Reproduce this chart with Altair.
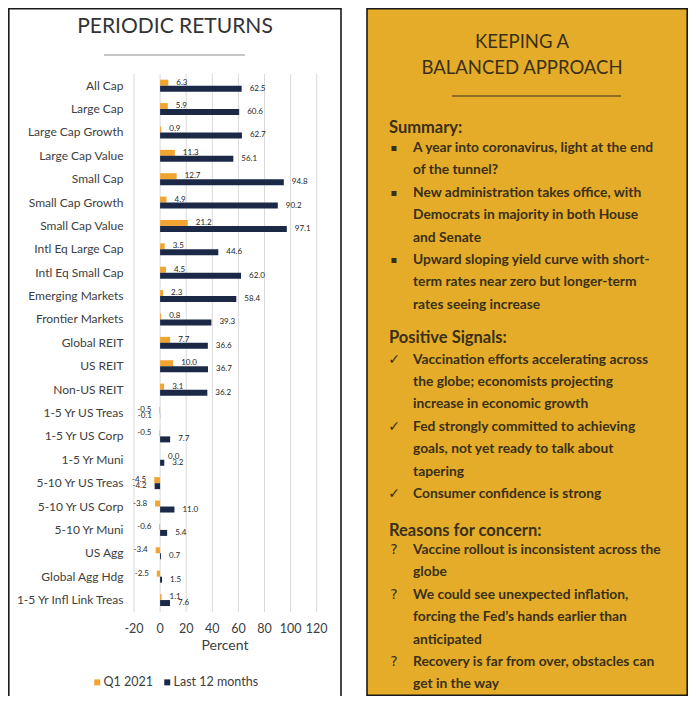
import altair as alt
import pandas as pd

# ---------------- data ----------------
categories = ["All Cap", "Large Cap", "Large Cap Growth", "Large Cap Value", "Small Cap",
              "Small Cap Growth", "Small Cap Value", "Intl Eq Large Cap", "Intl Eq Small Cap",
              "Emerging Markets", "Frontier Markets", "Global REIT", "US REIT", "Non-US REIT",
              "1-5 Yr US Treas", "1-5 Yr US Corp", "1-5 Yr Muni", "5-10 Yr US Treas",
              "5-10 Yr US Corp", "5-10 Yr Muni", "US Agg", "Global Agg Hdg",
              "1-5 Yr Infl Link Treas"]
q1_2021 = [6.3, 5.9, 0.9, 11.3, 12.7, 4.9, 21.2, 3.5, 4.5, 2.3, 0.8, 7.7, 10.0, 3.1,
           -0.5, -0.5, 0.0, -4.5, -3.8, -0.6, -3.4, -2.5, 1.1]
last_12m = [62.5, 60.6, 62.7, 56.1, 94.8, 90.2, 97.1, 44.6, 62.0, 58.4, 39.3, 36.6, 36.7, 36.2,
            -0.1, 7.7, 3.2, -4.2, 11.0, 5.4, 0.7, 1.5, 7.6]
series_names = ["Q1 2021", "Last 12 months"]
x_ticks = [-20, 0, 20, 40, 60, 80, 100, 120]

left_title = "PERIODIC RETURNS"
x_title = "Percent"
right_title = ["KEEPING A", "BALANCED APPROACH"]

summary_items = [
    ["A year into coronavirus, light at the end", "of the tunnel?"],
    ["New administration takes office, with", "Democrats in majority in both House", "and Senate"],
    ["Upward sloping yield curve with short-", "term rates near zero but longer-term",
     "rates seeing increase"],
]
positive_items = [
    ["Vaccination efforts accelerating across", "the globe; economists projecting",
     "increase in economic growth"],
    ["Fed strongly committed to achieving", "goals, not yet ready to talk about", "tapering"],
    ["Consumer confidence is strong"],
]
concern_items = [
    ["Vaccine rollout is inconsistent across the", "globe"],
    ["We could see unexpected inflation,", "forcing the Fed\u2019s hands earlier than", "anticipated"],
    ["Recovery is far from over, obstacles can", "get in the way"],
]
sections = [
    ("Summary:", summary_items, "\u25aa"),
    ("Positive Signals:", positive_items, "\u2713"),
    ("Reasons for concern:", concern_items, "?"),
]

# ---------------- styles ----------------
ORANGE = "#F2A431"
NAVY = "#1B2947"
GOLD = "#E5AC2A"
DARK = "#3A3018"
GREY_TXT = "#404040"
FONT = "Lato"

bars_df = pd.DataFrame({
    "cat": categories * 2,
    "series": [series_names[0]] * len(categories) + [series_names[1]] * len(categories),
    "value": q1_2021 + last_12m,
})
bars_df["label"] = bars_df["value"].map(lambda v: f"{v:.1f}")

ticks_df = pd.DataFrame({"t": x_ticks})
ticks_df["lab"] = ticks_df["t"].map(str)

xs = alt.Scale(domain=[-20, 120], range=[126, 308.7], nice=False, zero=False)
step = 23.38
ys = alt.Scale(domain=categories, range=[66.0, 66.0 + step * len(categories)],
               paddingInner=0.487, paddingOuter=0.2435)
yoff = alt.Scale(domain=series_names, paddingInner=0, paddingOuter=0)

X = alt.X("value:Q", scale=xs, axis=None)
Y = alt.Y("cat:N", scale=ys, axis=None)
YO = alt.YOffset("series:N", scale=yoff, sort=series_names)

grid = alt.Chart(ticks_df).mark_rule(color="#D9D9D9", strokeWidth=1).encode(
    x=alt.X("t:Q", scale=xs, axis=None), y=alt.value(66), y2=alt.value(604))

tick_labels = alt.Chart(ticks_df).mark_text(
    font=FONT, fontSize=12.5, color=GREY_TXT, baseline="middle", align="center").encode(
    x=alt.X("t:Q", scale=xs, axis=None), y=alt.value(621), text="lab:N")

bars = alt.Chart(bars_df).mark_bar(stroke=None).encode(
    x=X, y=Y, yOffset=YO,
    color=alt.Color("series:N", scale=alt.Scale(domain=series_names, range=[ORANGE, NAVY]),
                    legend=alt.Legend(orient="none", legendX=83, legendY=668,
                                      direction="horizontal", title=None, symbolType="square",
                                      symbolSize=36, symbolStrokeWidth=0, labelFont=FONT,
                                      labelFontSize=12.5, labelColor=GREY_TXT, labelOffset=0,
                                      columnPadding=8, padding=0)),
)

pos_labels = alt.Chart(bars_df).transform_filter("datum.value >= 0").mark_text(
    font=FONT, fontSize=8, color="#262626", align="left", baseline="middle", dx=8).encode(
    x=X, y=Y, yOffset=YO, text="label:N")
neg_labels = alt.Chart(bars_df).transform_filter("datum.value < 0").mark_text(
    font=FONT, fontSize=8, color="#262626", align="right", baseline="middle", dx=-8).encode(
    x=X, y=Y, yOffset=YO, text="label:N")

cat_labels = alt.Chart(pd.DataFrame({"cat": categories})).mark_text(
    font=FONT, fontSize=12, color=GREY_TXT, align="right", baseline="middle").encode(
    x=alt.value(115.5), y=alt.Y("cat:N", scale=ys, axis=None), text="cat:N")

x_title_mark = alt.Chart(pd.DataFrame({"s": [x_title]})).mark_text(
    font=FONT, fontSize=14, color=GREY_TXT, align="center", baseline="middle").encode(
    x=alt.value(217), y=alt.value(638), text="s:N")

# left panel frame and title
left_frame = alt.Chart(pd.DataFrame({"a": [0]})).mark_rect(
    fill="white", stroke="#1A1A1A", strokeWidth=1.6).encode(
    x=alt.value(0.8), x2=alt.value(333), y=alt.value(0.8), y2=alt.value(720))
left_title_mark = alt.Chart(pd.DataFrame({"s": [left_title]})).mark_text(
    font=FONT, fontSize=21, color="#333333", align="center", baseline="middle").encode(
    x=alt.value(167), y=alt.value(19), text="s:N")
left_line = alt.Chart(pd.DataFrame({"a": [0]})).mark_rule(color="#8C8C8C", strokeWidth=1.2).encode(
    x=alt.value(96), x2=alt.value(237), y=alt.value(47))

# right panel
right_box = alt.Chart(pd.DataFrame({"a": [0]})).mark_rect(
    fill=GOLD, stroke="#1A1A1A", strokeWidth=1.6).encode(
    x=alt.value(359), x2=alt.value(679.2), y=alt.value(0.8), y2=alt.value(687.2))

title_df = pd.DataFrame({"s": right_title, "py": [34, 60]})
right_title_mark = alt.Chart(title_df).mark_text(
    font=FONT, fontSize=18.5, color=DARK, align="center", baseline="middle").encode(
    x=alt.value(514), y=alt.Y("py:Q", scale=None), text="s:N")
right_line = alt.Chart(pd.DataFrame({"a": [0]})).mark_rule(color=DARK, strokeWidth=1.2).encode(
    x=alt.value(444), x2=alt.value(613), y=alt.value(88))

header_y = [120, 330, 522.5]
first_line_y = [140, 351.5, 542]
line_step = 22.4
hdr_rows, body_rows, bullet_rows = [], [], []
for (hdr, items, sym), hy, fy in zip(sections, header_y, first_line_y):
    hdr_rows.append({"s": hdr, "py": hy})
    k = 0
    for item in items:
        bullet_rows.append({"s": sym, "py": fy + k * line_step})
        for line in item:
            body_rows.append({"s": line, "py": fy + k * line_step})
            k += 1
bullet_df = pd.DataFrame(bullet_rows)

headers = alt.Chart(pd.DataFrame(hdr_rows)).mark_text(
    font=FONT, fontSize=16.5, fontWeight="bold", color=DARK, align="left", baseline="middle").encode(
    x=alt.value(381), y=alt.Y("py:Q", scale=None), text="s:N")
body = alt.Chart(pd.DataFrame(body_rows)).mark_text(
    font=FONT, fontSize=13.8, fontWeight="bold", color=DARK, align="left", baseline="middle").encode(
    x=alt.value(405), y=alt.Y("py:Q", scale=None), text="s:N")
bullets_sq = alt.Chart(bullet_df).transform_filter("datum.s == '\u25aa'").mark_text(
    font="DejaVu Sans", fontSize=10, color=DARK, align="center", baseline="middle").encode(
    x=alt.value(386), y=alt.Y("py:Q", scale=None), text="s:N")
bullets_other = alt.Chart(bullet_df).transform_filter("datum.s != '\u25aa'").mark_text(
    font="DejaVu Sans", fontSize=14, color=DARK, align="center", baseline="middle").encode(
    x=alt.value(386), y=alt.Y("py:Q", scale=None), text="s:N")

chart = alt.layer(
    left_frame, left_title_mark, left_line, grid, bars, pos_labels, neg_labels, cat_labels,
    tick_labels, x_title_mark, right_box, right_title_mark, right_line, headers, body,
    bullets_sq, bullets_other,
).resolve_scale(x="independent", y="independent").properties(
    width=680, height=688, autosize=alt.AutoSizeParams(type="none"), padding=0,
).configure_view(stroke=None)

chart.save("out.html", embed_options={"renderer": "svg", "actions": False})
